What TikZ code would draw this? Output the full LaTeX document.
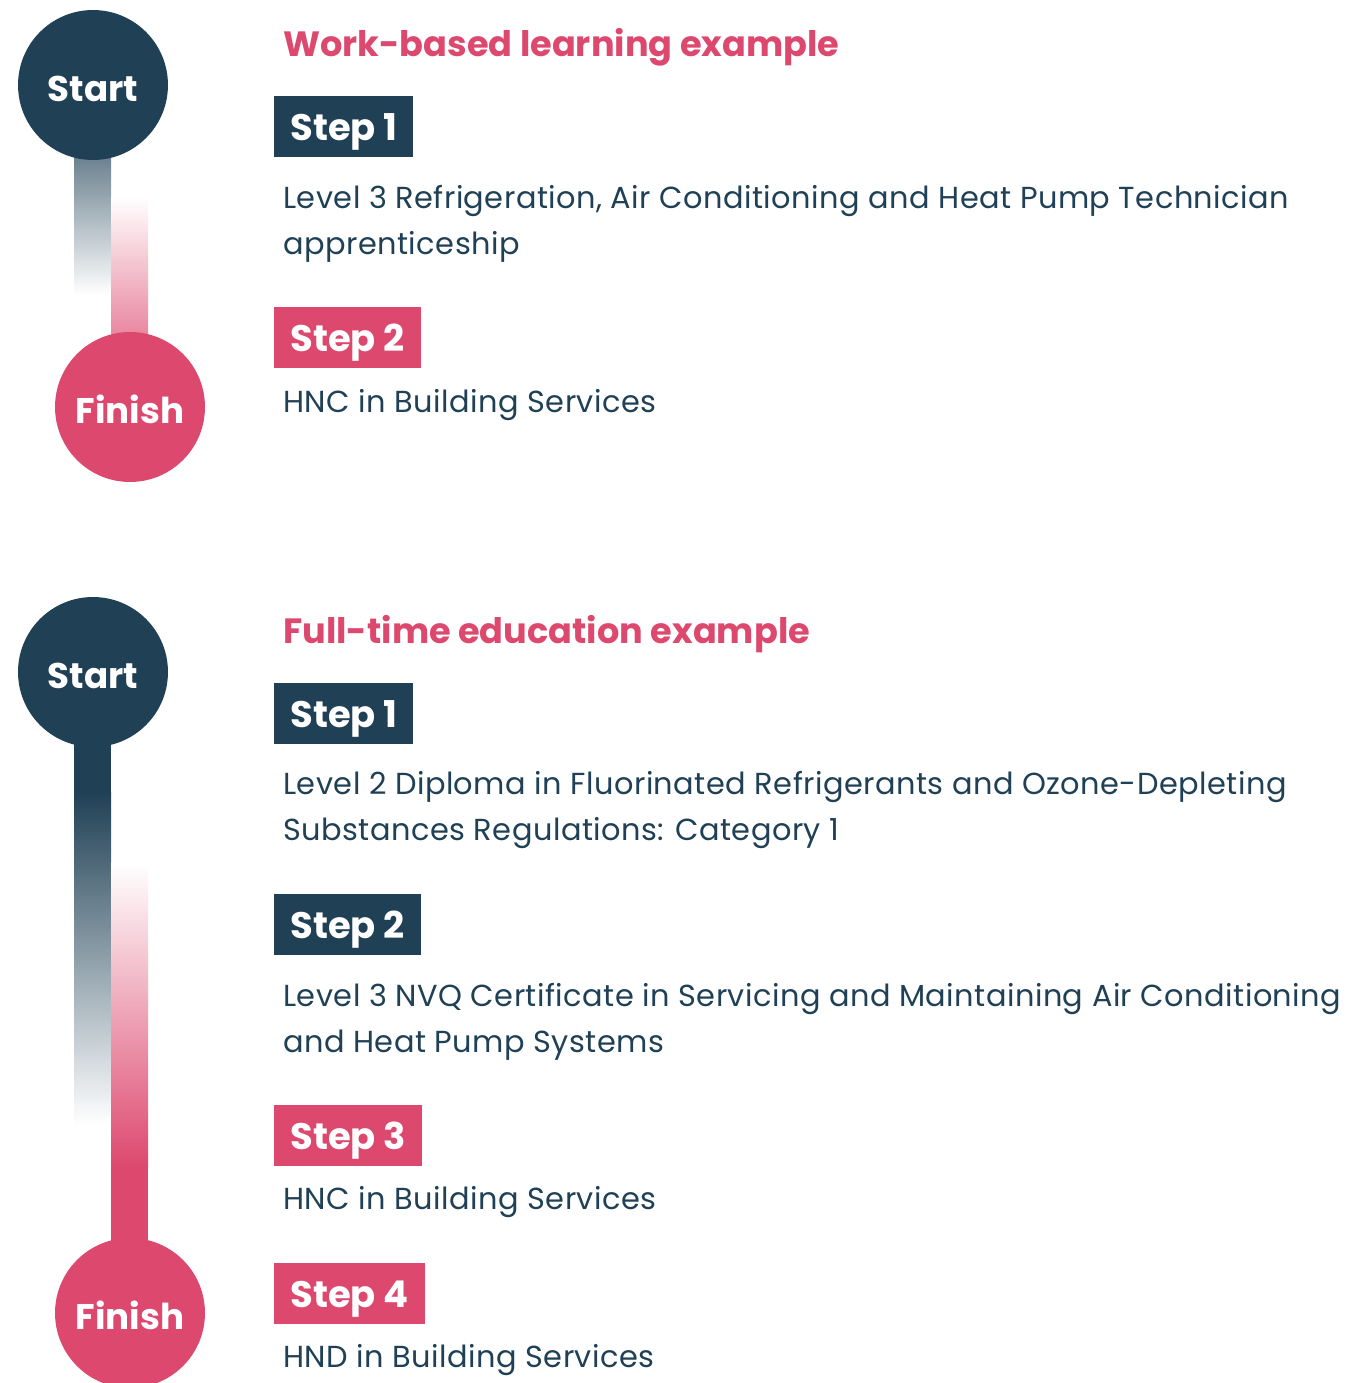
\documentclass[tikz,border=0pt]{standalone}
\usepackage{fontspec}
\setmainfont{Poppins}
\usetikzlibrary{positioning, backgrounds}
\definecolor{navy}{HTML}{1F4055}
\definecolor{rose}{HTML}{DD486E}

\begin{document}
\begin{tikzpicture}[x=0.02cm, y=-0.02cm,
	endpoint/.style={circle, minimum size=3cm, inner sep=0pt, text height=18.5pt, text depth=0pt, text=white, font=\fontsize{20.3}{24}\selectfont\bfseries},
	heading/.style={anchor=base west, inner sep=0pt, text=rose, font=\fontsize{20}{24}\selectfont\bfseries},
	stepbox/.style={anchor=north west, inner xsep=0.32cm, inner ysep=0pt, minimum height=1.22cm, text depth=0pt, text=white, font=\fontsize{21}{25}\selectfont\bfseries},
	course/.style={anchor=base west, inner sep=0pt, text=navy, font=\fontsize{17.3}{20}\selectfont\addfontfeature{LetterSpace=1.5}}]
				\useasboundingbox (0,0) rectangle (1346,1383);
				% work-based route
				\node[endpoint, fill=navy] (start1) at (93,85) {Start};
				\node[endpoint, fill=rose] (finish1) at (130,407) {Finish};
				\begin{scope}[on background layer]
					\shade[top color=navy, bottom color=white, shift={(start1.center)}] (-19,0) rectangle (18,210);
					\shade[top color=white, bottom color=rose, shift={(finish1.center)}] (-19,-210) rectangle (18,0);
				\end{scope}
				\node[heading] (title1) at (283,56) {Work-based learning example};
				\node[stepbox, fill=navy] (step11) at (274,96) {Step 1};
				\node[course] (course11) at (283,208) {Level 3 Refrigeration, Air Conditioning and Heat Pump Technician};
				\node[course] (course11b) at (283,254) {apprenticeship};
				\node[stepbox, fill=rose] (step12) at (274,307) {Step 2};
				\node[course] (course12) at (283,412) {HNC in Building Services};
				% full-time route
				\node[endpoint, fill=navy] (start2) at (93,672) {Start};
				\node[endpoint, fill=rose] (finish2) at (130,1313) {Finish};
				\begin{scope}[on background layer]
					\fill[navy, shift={(start2.center)}] (-19,0) rectangle (18,120);
					\shade[top color=navy, bottom color=white, shift={(start2.center)}] (-19,120) rectangle (18,453);
					\shade[top color=white, bottom color=rose, shift={(finish2.center)}] (-19,-450) rectangle (18,-146);
					\fill[rose, shift={(finish2.center)}] (-19,-146) rectangle (18,0);
				\end{scope}
				\node[heading] (title2) at (283,643) {Full-time education example};
				\node[stepbox, fill=navy] (step21) at (274,683) {Step 1};
				\node[course] (course21) at (283,794) {Level 2 Diploma in Fluorinated Refrigerants and Ozone-Depleting};
				\node[course] (course21b) at (283,840) {Substances Regulations: Category 1};
				\node[stepbox, fill=navy] (step22) at (274,894) {Step 2};
				\node[course] (course22) at (283,1006) {Level 3 NVQ Certificate in Servicing and Maintaining Air Conditioning};
				\node[course] (course22b) at (283,1052) {and Heat Pump Systems};
				\node[stepbox, fill=rose] (step23) at (274,1105) {Step 3};
				\node[course] (course23) at (283,1209) {HNC in Building Services};
				\node[stepbox, fill=rose] (step24) at (274,1263) {Step 4};
				\node[course] (course24) at (283,1367) {HND in Building Services};
\end{tikzpicture}
\end{document}
